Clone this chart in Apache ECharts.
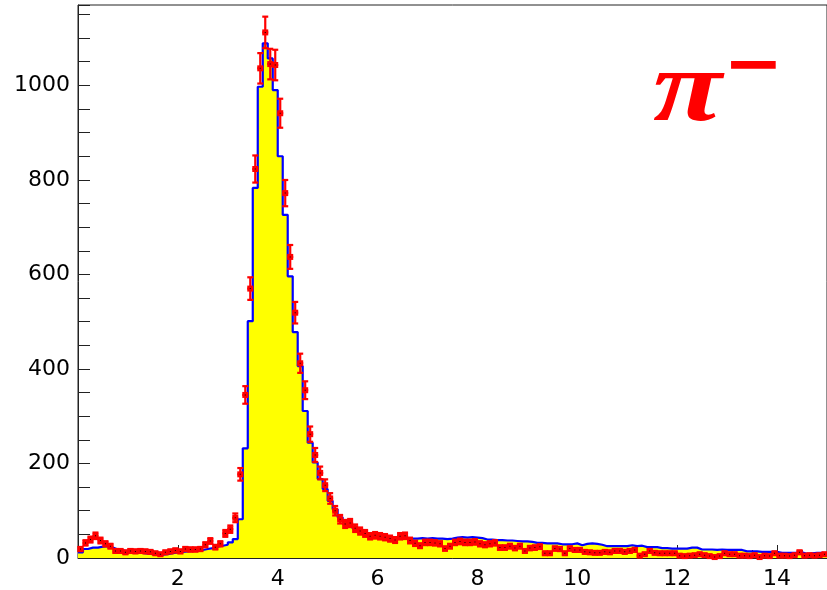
<!DOCTYPE html>
<html>
<head>
<meta charset="utf-8">
<script src="https://cdn.jsdelivr.net/npm/echarts@6/dist/echarts.min.js"></script>
<style>
  html, body { margin: 0; padding: 0; background: #ffffff; }
  #chart { width: 827px; height: 590px; }
</style>
</head>
<body>
<div id="chart"></div>
<script>
// Histogram binning (0.1 wide bins from 0 to 15)
const binWidth = 0.1;
const xMin = 0;
const xMax = 15;
const yMax = 1170;

// Simulated spectrum (yellow filled histogram, blue outline), one value per bin
const simCounts = [
  12, 19, 22, 22, 24, 25, 22, 18, 16, 14,
  13, 12, 11, 9, 8, 7, 7, 8, 10, 12,
  13, 14, 15, 16, 17, 19, 21, 24, 26, 28,
  33, 40, 82, 232, 501, 783, 997, 1089, 1057, 990,
  850, 726, 596, 478, 406, 311, 244, 202, 167, 146,
  121, 103, 86, 76, 68, 62, 57, 52, 50, 48,
  46, 44, 43, 42, 42, 41, 41, 41, 42, 41,
  42, 41, 41, 40, 41, 43, 44, 43, 44, 43,
  42, 39, 39, 38, 38, 37, 37, 36, 35, 35,
  34, 32, 32, 31, 31, 31, 29, 29, 29, 31,
  27, 30, 31, 30, 28, 25, 25, 25, 25, 25,
  27, 25, 26, 23, 23, 23, 21, 21, 20, 20,
  20, 20, 22, 22, 18, 18, 18, 17, 18, 17,
  17, 17, 17, 14, 14, 14, 13, 13, 13, 13,
  11, 11, 11, 11, 12, 9, 10, 11, 11, 10
];

// Measured counts (red points with statistical error bars), one value per bin
const dataCounts = [
  19, 32, 39, 47, 37, 30, 25, 15, 15, 12,
  15, 14, 15, 14, 13, 10, 8, 12, 14, 16,
  14, 19, 18, 18, 19, 28, 36, 23, 30, 52,
  61, 85, 177, 345, 570, 823, 1036, 1112, 1045, 1043,
  941, 772, 637, 519, 412, 355, 262, 218, 180, 154,
  126, 100, 82, 72, 74, 63, 57, 52, 46, 48,
  46, 44, 41, 38, 46, 47, 37, 31, 26, 33,
  33, 32, 30, 20, 25, 33, 35, 33, 33, 34,
  30, 28, 30, 32, 22, 22, 25, 21, 25, 15,
  21, 22, 24, 10, 10, 20, 19, 10, 20, 17,
  17, 13, 12, 11, 11, 13, 12, 15, 15, 13,
  15, 17, 5, 8, 15, 11, 10, 10, 10, 10,
  5, 4, 5, 6, 8, 6, 4, 2, 4, 10,
  8, 8, 5, 5, 4, 6, 2, 5, 4, 10,
  5, 5, 4, 6, 12, 5, 6, 5, 6, 8
];

// Axis ticks
const xMajorStep = 2;
const xMinorStep = 0.5;
const yTickStep = 50;
const yLabelStep = 200;

// Particle label
const particleName = 'π';
const particleCharge = '−';

// Step outline: left edge of every bin, then the right edge of the last one
const simLine = simCounts.map((v, k) => [xMin + k * binWidth, v]);
simLine.push([xMax, simCounts[simCounts.length - 1]]);

// Points at bin centres
const dataPoints = dataCounts.map((v, k) => [xMin + (k + 0.5) * binWidth, v]);

// Marker + sqrt(N) vertical error bar with caps + bin-width horizontal bar
function renderPoint(params, api) {
  const x = api.value(0);
  const y = api.value(1);
  const err = Math.sqrt(y);
  const c = api.coord([x, y]);
  const top = api.coord([x, y + err])[1];
  const bot = api.coord([x, Math.max(0, y - err)])[1];
  const left = api.coord([x - binWidth / 2, y])[0];
  const right = api.coord([x + binWidth / 2, y])[0];
  const red = '#ff0000';
  const ls = { stroke: red, lineWidth: 2.2 };
  return {
    type: 'group',
    children: [
      { type: 'line', shape: { x1: c[0], y1: top, x2: c[0], y2: bot }, style: ls },
      { type: 'line', shape: { x1: c[0] - 3, y1: top, x2: c[0] + 3, y2: top }, style: ls },
      { type: 'line', shape: { x1: c[0] - 3, y1: bot, x2: c[0] + 3, y2: bot }, style: ls },
      { type: 'line', shape: { x1: left - 0.5, y1: c[1], x2: right + 0.5, y2: c[1] }, style: ls },
      { type: 'rect', shape: { x: c[0] - 3, y: c[1] - 3, width: 6, height: 6 }, style: { fill: red } },
      { type: 'rect', shape: { x: c[0] - 0.5, y: c[1] - 0.5, width: 1, height: 1 }, style: { fill: '#000000' } }
    ]
  };
}

const chart = echarts.init(document.getElementById('chart'), null, { renderer: 'canvas' });

const labelFont = { fontFamily: '"DejaVu Sans", sans-serif', fontSize: 22, color: '#000000' };

chart.setOption({
  animation: false,
  backgroundColor: '#ffffff',
  grid: {
    left: 78, top: 5, width: 750, height: 554,
    show: true, borderColor: '#222222', borderWidth: 1, backgroundColor: 'transparent'
  },
  xAxis: [
    {
      type: 'value', min: xMin, max: xMax, interval: xMinorStep, position: 'bottom',
      axisLine: { show: true, onZero: false, lineStyle: { color: '#222222', width: 1 } },
      axisTick: { show: true, inside: true, length: 8, lineStyle: { color: '#222222' } },
      axisLabel: { show: false },
      splitLine: { show: false }
    },
    {
      type: 'value', min: xMin, max: xMax, interval: xMajorStep, position: 'bottom', offset: 0,
      axisLine: { show: false, onZero: false },
      axisTick: { show: true, inside: true, length: 13, lineStyle: { color: '#222222' } },
      axisLabel: Object.assign({ show: true, margin: 10, showMinLabel: false, showMaxLabel: false }, labelFont),
      splitLine: { show: false }
    }
  ],
  yAxis: {
    type: 'value', min: 0, max: yMax, interval: yTickStep,
    axisLine: { show: true, onZero: false, lineStyle: { color: '#222222', width: 1 } },
    axisTick: { show: true, inside: true, length: 12, lineStyle: { color: '#222222' } },
    axisLabel: Object.assign({
      margin: 8,
      formatter: v => (v % yLabelStep === 0 ? String(v) : '')
    }, labelFont),
    splitLine: { show: false }
  },
  series: [
    {
      name: 'simulation',
      type: 'line',
      xAxisIndex: 0,
      step: 'end',
      data: simLine,
      symbol: 'none',
      lineStyle: { color: '#0000ff', width: 2.2 },
      areaStyle: { color: '#ffff00', opacity: 1 },
      z: 2
    },
    {
      name: 'data',
      type: 'custom',
      xAxisIndex: 0,
      renderItem: renderPoint,
      data: dataPoints,
      z: 3
    }
  ],
  graphic: [
    {
      type: 'text', x: 653, y: 43, scaleX: 1.25, scaleY: 1, z: 10,
      style: {
        text: particleName, x: 0, y: 0, textAlign: 'left', textVerticalAlign: 'top',
        font: 'italic bold 101px "Liberation Serif"', fill: '#ff0000'
      }
    },
    {
      type: 'text', x: 726, y: 17, scaleX: 1.2, scaleY: 1.4, z: 10,
      style: {
        text: particleCharge, x: 0, y: 0, textAlign: 'left', textVerticalAlign: 'top',
        font: 'bold 80px "Liberation Serif"', fill: '#ff0000'
      }
    }
  ]
});
</script>
</body>
</html>
